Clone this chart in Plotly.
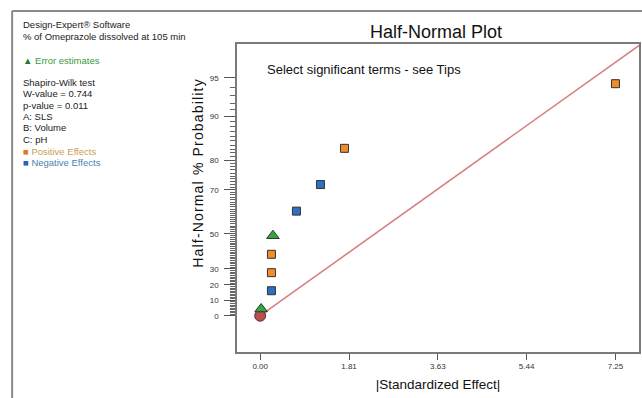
import plotly.graph_objects as go
from statistics import NormalDist

# ---------------- data ----------------
effects = [0.02, 0.23, 0.23, 0.23, 0.26, 0.74, 1.23, 1.72, 7.25]
probs = [4.4, 16.3, 27.7, 38.7, 49.0, 61.1, 72.0, 83.2, 94.4]
kinds = ["error", "negative", "positive", "positive", "error",
         "negative", "negative", "positive", "positive"]
origin_effect = [0.0]
origin_prob = [0.0]
line_effect = [0.0, 8.0]
line_slope = 0.288  # z per unit of |standardized effect|
x_tick_vals = [0.0, 1.8125, 3.625, 5.4375, 7.25]
x_tick_text = ["0.00", "1.81", "3.63", "5.44", "7.25"]
y_tick_probs = [0, 10, 20, 30, 50, 70, 80, 90, 95]
y_minor_probs = [p for p in range(1, 95) if p not in y_tick_probs]

nd = NormalDist()
def hn(p):
    return nd.inv_cdf(0.5 + p / 200.0)

# ---------------- layout constants ----------------
W, H = 642, 398
L, R, T, B = 237, 1, 44, 46
pw, ph = W - L - R, H - T - B
def px(x):
    return (x - L) / pw
def py(y):
    return (H - B - y) / ph

styles = {
    "positive": dict(symbol="square", color="#f28c28", size=8),
    "negative": dict(symbol="square", color="#2e6fc0", size=8),
    "error": dict(symbol="triangle-up", color="#2eaa3c", size=11),
}

fig = go.Figure()

# fitted line
fig.add_trace(go.Scatter(
    x=line_effect, y=[line_slope * v for v in line_effect], mode="lines",
    line=dict(color="#d98080", width=1.6), hoverinfo="skip", showlegend=False))

# origin marker
fig.add_trace(go.Scatter(
    x=origin_effect, y=[hn(p) for p in origin_prob], mode="markers",
    marker=dict(symbol="circle", size=11, color="#b94f4c",
                line=dict(color="#6a2828", width=1)),
    showlegend=False, cliponaxis=False))

for k in ["negative", "positive", "error"]:
    xs = [e for e, kk in zip(effects, kinds) if kk == k]
    ys = [hn(p) for p, kk in zip(probs, kinds) if kk == k]
    s = styles[k]
    fig.add_trace(go.Scatter(
        x=xs, y=ys, mode="markers", showlegend=False, cliponaxis=False,
        marker=dict(symbol=s["symbol"], size=s["size"], color=s["color"],
                    line=dict(color="#333333", width=1))))

font = "Liberation Sans, Arial, sans-serif"

fig.update_layout(
    width=W, height=H, margin=dict(l=L, r=R, t=T, b=B),
    paper_bgcolor="white", plot_bgcolor="white",
    font=dict(family=font, color="#222222"),
    showlegend=False,
    xaxis=dict(range=[-0.473, 7.73], tickvals=x_tick_vals, ticktext=x_tick_text,
               showgrid=False, zeroline=False, showline=True, mirror=True,
               linecolor="#7a7a7a", linewidth=1.5, ticks="outside", ticklen=6,
               tickcolor="#555555", tickfont=dict(size=8, color="#333333"),
               title=dict(text="|Standardized Effect|", font=dict(size=13.5, color="#111111"),
                          standoff=9)),
    yaxis=dict(range=[-0.299, 2.238], tickvals=[hn(p) for p in y_tick_probs],
               ticktext=[str(p) for p in y_tick_probs],
               showgrid=False, zeroline=False, showline=True, mirror=True,
               linecolor="#7a7a7a", linewidth=1.5, ticks="outside", ticklen=11,
               tickcolor="#555555", tickfont=dict(size=8, color="#333333"),
               ticklabelstandoff=4,
               minor=dict(tickvals=[hn(p) for p in y_minor_probs], ticks="outside",
                          ticklen=5, tickcolor="#666666", tickwidth=1, showgrid=False)),
)

annos = []
# Y axis title (letter spaced)
ytitle = "\u200a".join("Half-Normal % Probability")
annos.append(dict(x=px(197.5), y=py(174), xref="paper", yref="paper", text=ytitle,
                  textangle=-90, showarrow=False, font=dict(size=14, color="#111111"),
                  xanchor="center", yanchor="middle"))
annos.append(dict(x=px(437), y=py(32), xref="paper", yref="paper", text="Half-Normal Plot",
                  showarrow=False, font=dict(size=18, color="#111111"),
                  xanchor="center", yanchor="middle"))
annos.append(dict(x=px(265), y=py(69), xref="paper", yref="paper",
                  text="Select significant terms - see Tips", showarrow=False,
                  font=dict(size=13, color="#111111"), xanchor="left", yanchor="middle"))

left_lines = [
    ("Design-Expert® Software", 25, "#222222"),
    ("% of Omeprazole dissolved at 105 min", 36, "#222222"),
    ("<span style='color:#2a7a30'>▲</span> Error estimates", 60, "#3a9a40"),
    ("Shapiro-Wilk test", 82, "#222222"),
    ("W-value = 0.744", 93.5, "#222222"),
    ("p-value = 0.011", 105.3, "#222222"),
    ("A: SLS", 116.7, "#222222"),
    ("B: Volume", 127.9, "#222222"),
    ("C: pH", 139, "#222222"),
    ("<span style='color:#e07a20'>■</span> Positive Effects", 151, "#c9a055"),
    ("<span style='color:#2e60b0'>■</span> Negative Effects", 162.7, "#4a82b0"),
]
for txt, yy, col in left_lines:
    annos.append(dict(x=px(20), y=py(yy), xref="paper", yref="paper", text=txt,
                      showarrow=False, font=dict(size=9.5, color=col),
                      xanchor="left", yanchor="middle"))
fig.update_layout(annotations=annos)

# outer frame lines
fig.add_shape(type="line", xref="paper", yref="paper", x0=px(11), x1=px(650),
              y0=py(11), y1=py(11), line=dict(color="#8a8a8a", width=2))
fig.add_shape(type="line", xref="paper", yref="paper", x0=px(11), x1=px(11),
              y0=py(11), y1=py(405), line=dict(color="#8a8a8a", width=2))

fig.write_html("out.html")
